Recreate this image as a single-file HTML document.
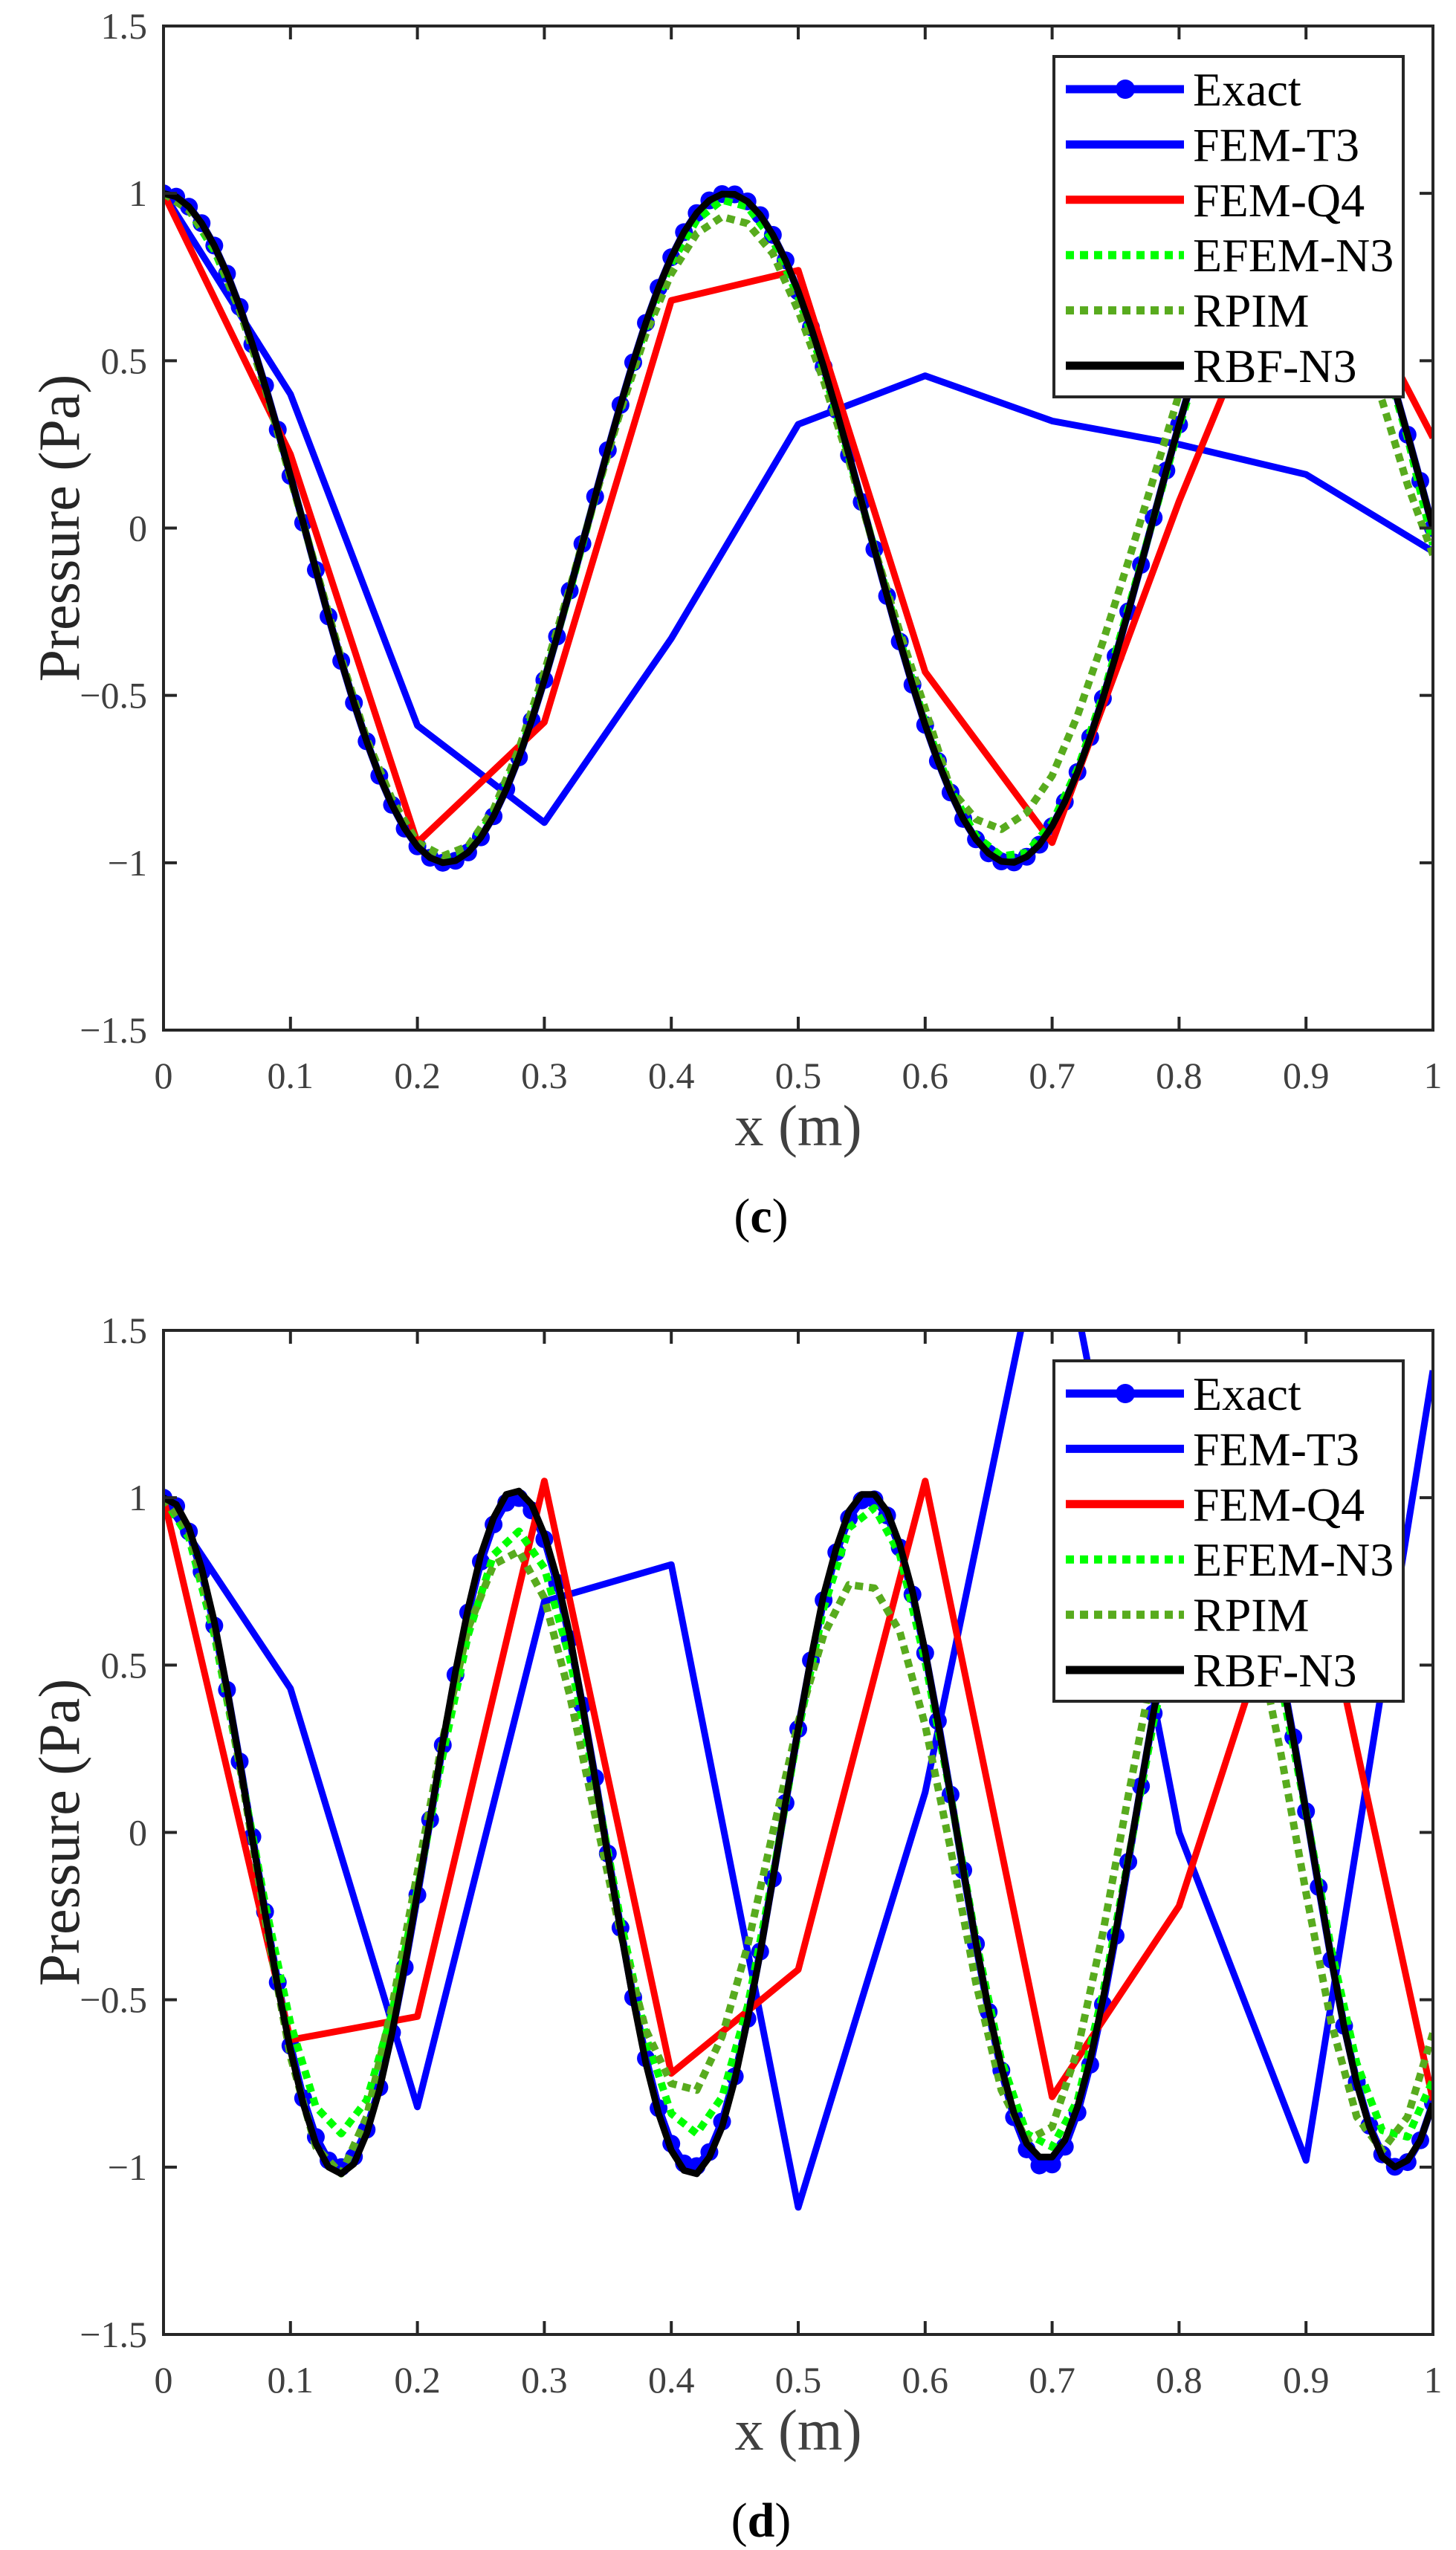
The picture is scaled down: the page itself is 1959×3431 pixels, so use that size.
<!DOCTYPE html>
<html><head><meta charset="utf-8"><style>
html,body{margin:0;padding:0;background:#fff;}
svg{display:block;font-family:"Liberation Serif",serif;}
</style></head><body>
<svg id="fig" width="1959" height="3431" viewBox="0 0 1959 3431" xmlns="http://www.w3.org/2000/svg"></svg>
<script>
// ---------- data ----------
const xTicks = [0,0.1,0.2,0.3,0.4,0.5,0.6,0.7,0.8,0.9,1];
const xTickLabels = ["0","0.1","0.2","0.3","0.4","0.5","0.6","0.7","0.8","0.9","1"];
const yTicks = [-1.5,-1,-0.5,0,0.5,1,1.5];
const yTickLabels = ["\u22121.5","\u22121","\u22120.5","0","0.5","1","1.5"];
const femX = [0,0.1,0.2,0.3,0.4,0.5,0.6,0.7,0.8,0.9,1];

// Plot (c)
const exactTop = [1,0.990,0.960,0.911,0.844,0.760,0.661,0.549,0.426,0.294,0.156,0.016,-0.125,-0.264,-0.397,-0.522,-0.637,-0.740,-0.827,-0.898,-0.951,-0.985,-1.000,-0.994,-0.969,-0.924,-0.861,-0.780,-0.685,-0.575,-0.454,-0.324,-0.187,-0.047,0.094,0.233,0.368,0.495,0.613,0.718,0.809,0.884,0.941,0.979,0.998,0.997,0.976,0.935,0.876,0.800,0.707,0.600,0.482,0.353,0.218,0.078,-0.063,-0.203,-0.339,-0.468,-0.588,-0.696,-0.790,-0.869,-0.930,-0.972,-0.996,-0.999,-0.982,-0.946,-0.891,-0.818,-0.729,-0.625,-0.509,-0.383,-0.249,-0.110,0.031,0.172,0.309,0.440,0.562,0.673,0.770,0.853,0.918,0.965,0.992,1.000,0.988,0.956,0.905,0.836,0.750,0.649,0.536,0.412,0.279,0.141,0];
const rbfTop = exactTop.slice();
const efemTop = [1,0.95,0.83,0.65,0.42,0.15,-0.12,-0.39,-0.63,-0.82,-0.94,-0.98,-0.96,-0.85,-0.68,-0.45,-0.19,0.09,0.36,0.60,0.79,0.92,0.98,0.96,0.86,0.69,0.47,0.21,-0.06,-0.33,-0.58,-0.78,-0.92,-0.98,-0.97,-0.88,-0.72,-0.50,-0.24,0.03,0.30,0.55,0.76,0.90,0.97,0.97,0.89,0.74,0.53,0.27,-0.05];
const rpimTop = [1,0.95,0.84,0.65,0.42,0.15,-0.12,-0.39,-0.63,-0.81,-0.94,-0.98,-0.95,-0.84,-0.66,-0.43,-0.18,0.09,0.35,0.58,0.76,0.88,0.93,0.91,0.82,0.65,0.44,0.20,-0.06,-0.31,-0.54,-0.78,-0.87,-0.90,-0.85,-0.74,-0.56,-0.34,-0.10,0.15,0.40,0.61,0.78,0.89,0.93,0.89,0.78,0.60,0.38,0.13,-0.08];
const t3Top = [1,0.40,-0.59,-0.88,-0.33,0.31,0.455,0.32,0.25,0.16,-0.07];
const q4Top = [1,0.22,-0.94,-0.58,0.68,0.77,-0.43,-0.94,0.08,1.0,0.27];

// Plot (d)
const exactBot = [1,0.975,0.899,0.779,0.618,0.426,0.212,-0.013,-0.237,-0.448,-0.637,-0.794,-0.910,-0.980,-1.000,-0.969,-0.888,-0.762,-0.598,-0.403,-0.187,0.038,0.261,0.471,0.657,0.809,0.920,0.985,0.999,0.962,0.876,0.746,0.578,0.380,0.163,-0.063,-0.285,-0.493,-0.675,-0.824,-0.930,-0.989,-0.997,-0.955,-0.864,-0.729,-0.557,-0.356,-0.138,0.088,0.309,0.514,0.694,0.837,0.939,0.992,0.995,0.947,0.851,0.711,0.536,0.333,0.113,-0.113,-0.333,-0.536,-0.711,-0.851,-0.947,-0.995,-0.992,-0.939,-0.837,-0.694,-0.514,-0.309,-0.088,0.138,0.356,0.557,0.729,0.864,0.955,0.997,0.989,0.930,0.824,0.675,0.493,0.285,0.063,-0.163,-0.380,-0.578,-0.746,-0.876,-0.962,-0.999,-0.985,-0.920,-0.809];
const rbfBot = [1,0.98,0.91,0.79,0.63,0.43,0.21,-0.02,-0.24,-0.46,-0.65,-0.81,-0.93,-1.0,-1.02,-0.99,-0.90,-0.77,-0.60,-0.40,-0.18,0.04,0.27,0.48,0.67,0.83,0.94,1.01,1.02,0.98,0.89,0.76,0.59,0.38,0.16,-0.07,-0.29,-0.50,-0.69,-0.84,-0.95,-1.01,-1.02,-0.97,-0.88,-0.74,-0.56,-0.36,-0.14,0.09,0.31,0.52,0.71,0.85,0.96,1.01,1.01,0.96,0.86,0.72,0.54,0.33,0.11,-0.11,-0.33,-0.53,-0.70,-0.84,-0.93,-0.97,-0.97,-0.92,-0.82,-0.68,-0.50,-0.30,-0.08,0.14,0.36,0.56,0.73,0.87,0.96,1.0,0.99,0.93,0.82,0.67,0.49,0.28,0.06,-0.16,-0.38,-0.58,-0.75,-0.88,-0.97,-1.0,-0.98,-0.92,-0.81];
const efemBot = [1,0.88,0.59,0.20,-0.21,-0.57,-0.82,-0.90,-0.80,-0.54,-0.17,0.23,0.59,0.83,0.90,0.79,0.52,0.15,-0.26,-0.61,-0.84,-0.90,-0.79,-0.52,-0.13,0.30,0.67,0.91,0.97,0.83,0.51,0.11,-0.32,-0.68,-0.90,-0.94,-0.80,-0.48,-0.08,0.33,0.68,0.89,0.92,0.77,0.45,0.06,-0.35,-0.69,-0.89,-0.91,-0.74];
const rpimBot = [1,0.90,0.61,0.20,-0.26,-0.67,-0.94,-1.02,-0.85,-0.52,-0.12,0.28,0.61,0.80,0.84,0.70,0.41,0.05,-0.30,-0.59,-0.75,-0.77,-0.61,-0.34,0.00,0.33,0.59,0.74,0.73,0.60,0.32,-0.05,-0.45,-0.77,-0.92,-0.88,-0.65,-0.30,0.11,0.50,0.78,0.90,0.84,0.61,0.24,-0.18,-0.57,-0.85,-0.95,-0.85,-0.60];
const t3Bot = [1,0.43,-0.82,0.69,0.80,-1.12,0.12,1.95,0.0,-0.98,1.38];
const q4Bot = [1,-0.62,-0.55,1.05,-0.72,-0.41,1.05,-0.79,-0.22,0.95,-0.80];

const legendLabels = ["Exact","FEM-T3","FEM-Q4","EFEM-N3","RPIM","RBF-N3"];

// ---------- drawing ----------
const NS = "http://www.w3.org/2000/svg";
const svg = document.getElementById("fig");
function mk(tag, attrs, parent){
  const e = document.createElementNS(NS, tag);
  for (const k in attrs) e.setAttribute(k, attrs[k]);
  (parent||svg).appendChild(e);
  return e;
}
const L = 220, R = 1928, H = 1351;
function stepX(n){ const a=[]; for(let i=0;i<n;i++) a.push(i/(n-1)); return a; }

function drawPlot(top, name, letter, d){
  const g = mk("g", {});
  
  
  const sx = v => L + v*(R-L);
  const sy = v => top + (1.5 - v)/3*H;
  const clip = mk("clipPath", {id:"clip-"+letter}, g);
  mk("rect", {x:L, y:top, width:R-L, height:H}, clip);
  const plotArea = mk("g", {"clip-path":"url(#clip-"+letter+")"}, g);
  
  

  function line(xs, ys, color, w, dash, nm){
    const pts = ys.map((v,i)=> sx(xs[i]).toFixed(1)+","+sy(v).toFixed(1)).join(" ");
    const p = mk("polyline", {points:pts, fill:"none", stroke:color, "stroke-width":w, "stroke-linejoin":"round"}, plotArea);
    if (dash) p.setAttribute("stroke-dasharray", dash);
    
    
    return p;
  }
  const xe = stepX(d.exact.length);
  line(xe, d.exact, "#0000ff", 10, null, "exact-line");
  d.exact.forEach((v,i)=>{
    const c = mk("circle", {cx:sx(xe[i]), cy:sy(v), r:12, fill:"#0000ff"}, plotArea);
    
    
  });
  line(femX, d.t3, "#0000ff", 9, null, "fem-t3-line");
  line(femX, d.q4, "#ff0000", 9, null, "fem-q4-line");
  line(stepX(d.efem.length), d.efem, "#00ff00", 10, "11 8", "efem-n3-line");
  line(stepX(d.rpim.length), d.rpim, "#58ab1e", 10, "11 8", "rpim-line");
  line(stepX(d.rbf.length), d.rbf, "#000000", 9, null, "rbf-n3-line");

  // axes box
  const box = mk("rect", {x:L, y:top, width:R-L, height:H, fill:"none", stroke:"#262626", "stroke-width":4}, g);
  
  
  xTicks.forEach((t,i)=>{
    const x = sx(t);
    mk("line", {x1:x, x2:x, y1:top+H, y2:top+H-18, stroke:"#262626","stroke-width":4}, g);
    mk("line", {x1:x, x2:x, y1:top, y2:top+18, stroke:"#262626","stroke-width":4}, g);
    const tx = mk("text", {x:x, y:top+H+78, "font-size":50, fill:"#404040", "text-anchor":"middle", "font-stretch":"condensed"}, g);
    tx.textContent = xTickLabels[i];
    
    
  });
  yTicks.forEach((t,i)=>{
    const y = sy(t);
    mk("line", {x1:L, x2:L+18, y1:y, y2:y, stroke:"#262626","stroke-width":4}, g);
    mk("line", {x1:R, x2:R-18, y1:y, y2:y, stroke:"#262626","stroke-width":4}, g);
    const ty = mk("text", {x:L-22, y:y+17, "font-size":50, fill:"#404040", "text-anchor":"end"}, g);
    ty.textContent = yTickLabels[i];
    
    
  });
  const xl = mk("text", {x:(L+R)/2, y:top+H+155, "font-size":78, fill:"#404040", "text-anchor":"middle"}, g);
  xl.textContent = "x (m)";
  
  
  const cy = top + H/2;
  const yl = mk("text", {x:80, y:cy, "font-size":78, fill:"#262626", "text-anchor":"middle", transform:"rotate(-90 80 "+cy+") translate(0 26)"}, g);
  yl.textContent = "Pressure (Pa)";
  
  
  const cap = mk("text", {x:(L+R)/2-50, y:top+H+272, "font-size":66, fill:"#000", "text-anchor":"middle"}, g);
  cap.innerHTML = '(<tspan font-weight="bold">'+letter+'</tspan>)';
  
  

  // legend
  const lt = top + 41;
  const lg = mk("g", {}, g);
  
  
  mk("rect", {x:1418, y:lt, width:470, height:458, fill:"#fff", stroke:"#262626", "stroke-width":4}, lg);
  const styles = [["#0000ff",null,true],["#0000ff",null,false],["#ff0000",null,false],["#00ff00","11 8",false],["#58ab1e","11 8",false],["#000000",null,false]];
  legendLabels.forEach((lab,i)=>{
    const y = lt + 44 + i*74.4;
    const s = styles[i];
    const ln = mk("line", {x1:1434, x2:1593, y1:y, y2:y, stroke:s[0], "stroke-width":11}, lg);
    if (s[1]) ln.setAttribute("stroke-dasharray", s[1]);
    if (s[2]) mk("circle", {cx:1514, cy:y, r:13, fill:"#0000ff"}, lg);
    const t = mk("text", {x:1605, y:y+22, "font-size":64, fill:"#000"}, lg);
    t.textContent = lab;
    
    
  });
}
drawPlot(35, "chart-c", "c", {exact:exactTop, rbf:rbfTop, efem:efemTop, rpim:rpimTop, t3:t3Top, q4:q4Top});
drawPlot(1790, "chart-d", "d", {exact:exactBot, rbf:rbfBot, efem:efemBot, rpim:rpimBot, t3:t3Bot, q4:q4Bot});
</script>
</body></html>
